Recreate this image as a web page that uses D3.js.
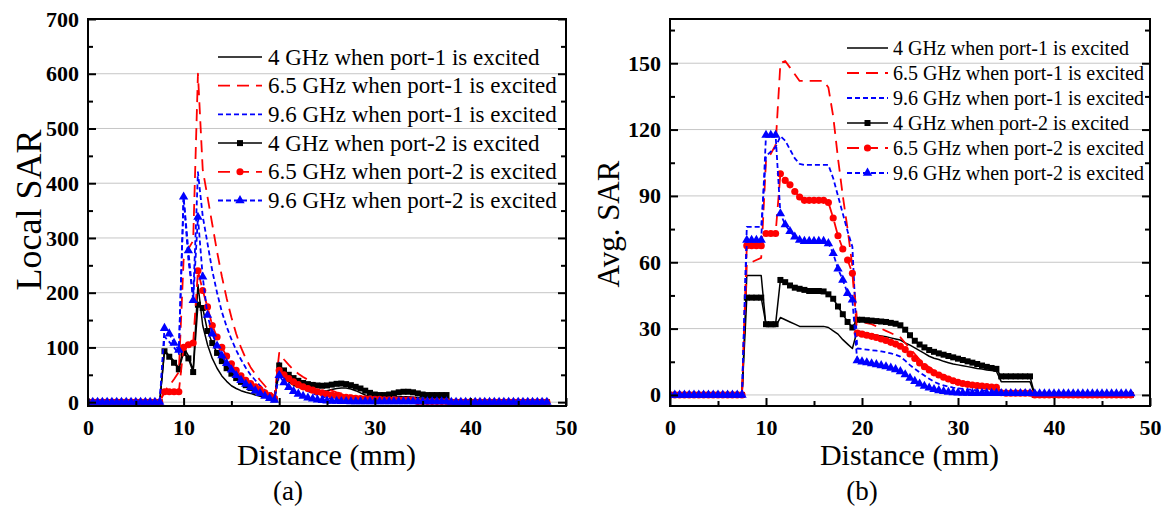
<!DOCTYPE html>
<html>
<head>
<meta charset="utf-8">
<script src="https://cdn.jsdelivr.net/npm/d3@7"></script>
<style>
  html, body { margin: 0; padding: 0; background: #fff; }
  svg { display: block; }
  text { font-family: "Liberation Serif", "Times New Roman", serif; }
</style>
</head>
<body>
<svg id="chart" width="1165" height="506"></svg>
<script>
// Sampling positions along the line (mm)
const distance = [
  0,0.5,1,1.5,2,2.5,3,3.5,4,4.5,5,5.5,6,6.5,7,7.5,
  8,8.5,9,9.5,10,10.5,11,11.5,
  12,12.5,13,13.5,14,14.5,15,15.5,
  16,16.5,17,17.5,18,18.5,19,19.5,
  20,20.5,21,21.5,22,22.5,23,23.5,
  24,24.5,25,25.5,26,26.5,27,27.5,
  28,28.5,29,29.5,30,30.5,31,31.5,
  32,32.5,33,33.5,34,34.5,35,35.5,
  36,36.5,37,37.5,
  38,38.5,39,39.5,40,40.5,41,41.5,42,42.5,43,43.5,44,44.5,45,45.5,46,46.5,47,47.5,48
];

// ---- (a) Local SAR ----
const local4GHzPort1 = [
  0,0,0,0,0,0,0,0,0,0,0,0,0,0,0,0,
  95,85,75,62,100,85,58,215,
  140,105,80,62,48,38,30,25,
  21,18,16,13,11,9,7,4,
  55,45,37,31,27,24,22,21,
  20,20,21,23,25,26,26,24,
  21,17,13,10,8,7,7,8,
  9,10,10,10,9,8,7,7,
  7,7,7,7,
  0,0,0,0,0,0,0,0,0,0,0,0,0,0,0,0,0,0,0,0,0
];
const local65GHzPort1 = [
  0,0,0,0,0,0,0,0,0,0,0,0,0,0,0,0,
  20,30,42,55,260,280,295,600,
  425,375,325,275,230,190,155,125,
  100,80,64,51,40,30,20,10,
  90,78,68,59,52,46,41,36,
  32,28,24,21,18,16,14,12,
  10,9,8,7,6,5.5,5,4.5,
  4,4,3.5,3.5,3,1.5,1.5,1.5,
  1.5,1.5,1.5,1.5,
  0,0,0,0,0,0,0,0,0,0,0,0,0,0,0,0,0,0,0,0,0
];
const local96GHzPort1 = [
  0,0,0,0,0,0,0,0,0,0,0,0,0,0,0,0,
  120,110,100,88,375,260,190,420,
  340,290,240,200,165,138,115,95,
  78,63,50,40,30,22,14,8,
  72,58,47,38,31,25,20,16,
  13,10,8,6.5,5,4.5,4,3.5,
  3,2.5,2.5,2,2,2,2,2,
  2,2,2,2,2,1,1,1,
  1,1,1,1,
  0,0,0,0,0,0,0,0,0,0,0,0,0,0,0,0,0,0,0,0,0
];
const local4GHzPort2 = [
  0,0,0,0,0,0,0,0,0,0,0,0,0,0,0,0,
  93,83,72,60,90,80,55,178,
  172,130,108,90,75,62,52,44,
  37,31,26,21,17,13,9,5,
  67,58,50,44,39,35,33,31.5,
  30.5,30,30.5,32,33.5,34,33,31,
  28,25,21,17,14,13,13,14,
  16,18,19,19,18,16,14,13,
  13,13,13,13,
  0,0,0,0,0,0,0,0,0,0,0,0,0,0,0,0,0,0,0,0,0
];
const local65GHzPort2 = [
  0,0,0,0,0,0,0,0,0,0,0,0,0,0,0,0,
  19,19,19,19,100,105,108,240,
  204,174,140,119,100,84,70,58,
  48,40,34,28,23,17,12,7,
  58,50,43,37,32,28,25,22,
  19,17,15,13,11.5,10,9,8,
  7,6.5,6,5.5,5,5,4.5,4.5,
  4.5,4,4,4,4,1,1,1,
  1,1,1,1,
  0,0,0,0,0,0,0,0,0,0,0,0,0,0,0,0,0,0,0,0,0
];
const local96GHzPort2 = [
  0,0,0,0,0,0,0,0,0,0,0,0,0,0,0,0,
  135,125,108,95,375,277,186,338,
  229,159,125,103,85,71,59,49,
  40,33,27,21,16,11,7,4,
  49,36,27,20,15,11,8,6,
  4.5,3.5,2.5,2,2,1.5,1.5,1,
  1,1,1,1,1,1,1,1,
  1,1,1,1,1,1,1,1,
  1,1,1,1,
  0,0,0,0,0,0,0,0,0,0,0,0,0,0,0,0,0,0,0,0,0
];

// ---- (b) Averaged SAR ----
const avg4GHzPort1 = [
  0,0,0,0,0,0,0,0,0,0,0,0,0,0,0,0,
  54,54,54,54,31,31,31,35,
  34,33,32,31,31,31,31,31,
  31,30.5,29,27.5,25,23,21,29,
  28.5,28,27.5,27,26.7,26.3,25.8,25.3,
  24.8,23.5,22.5,21.3,20,18.8,17.5,16.6,
  16,15.2,14.6,14,13.6,13.2,12.8,12.4,
  12,11.7,11.3,11,10.7,6,6,6,
  6,6,6,6,
  0,0,0,0,0,0,0,0,0,0,0,0,0,0,0,0,0,0,0,0,0
];
const avg65GHzPort1 = [
  0,0,0,0,0,0,0,0,0,0,0,0,0,0,0,0,
  59,60,61,62,106,109,113,150,
  151,148,145,142,142,142,142,142,
  142,139,126,107,90,75,58,33,
  33,32.5,32,31,30,29,28,27,
  26,23.5,21,18.5,16,14,12.5,11,
  10,9,8,7,6.2,5.6,5.1,4.7,
  4.4,4.1,3.9,3.7,3.5,1.5,1.3,1.2,
  1.2,1.2,1.2,1.2,
  0,0,0,0,0,0,0,0,0,0,0,0,0,0,0,0,0,0,0,0,0
];
const avg96GHzPort1 = [
  0,0,0,0,0,0,0,0,0,0,0,0,0,0,0,0,
  76,76,76,76,108,110,112,117,
  115,111,107,104.5,104,104,104,104,
  104,104,98,90,82,74,67,21,
  20.8,20.5,20.2,20,19.7,19.3,18.8,18.2,
  17.3,15.5,13.5,11.8,10.2,8.8,7.3,6,
  5,4.3,3.8,3.3,3,2.7,2.5,2.3,
  2.1,2,1.9,1.8,1.7,1,1,1,
  1,1,1,1,
  0.5,0.5,0.5,0.5,0.5,0.5,0.5,0.5,0.5,0.5,0.5,0.5,0.5,0.5,0.5,0.5,0.5,0.5,0.5,0.5,0.5
];
const avg4GHzPort2 = [
  0,0,0,0,0,0,0,0,0,0,0,0,0,0,0,0,
  44,44,44,44,32,32,32,52,
  51,49.5,48.5,48,47.5,47,47,47,
  46.8,45.5,43.5,40,36.5,33,30.5,34,
  34,33.8,33.6,33.4,33.2,33,32.6,32.2,
  31.5,29.5,27,24.5,22.8,21.5,20.3,19.5,
  18.8,18.2,17.6,17,16.4,15.8,15.2,14.6,
  14,13.3,12.7,12.2,11.8,8.4,8.4,8.4,
  8.4,8.4,8.4,8.4,
  0,0,0,0,0,0,0,0,0,0,0,0,0,0,0,0,0,0,0,0,0
];
const avg65GHzPort2 = [
  0,0,0,0,0,0,0,0,0,0,0,0,0,0,0,0,
  67.5,67.5,67.5,67.5,73,73,73,100,
  97,95,92,89.5,88,88,88,88,
  88,87,80,72,66,61,55,28,
  27.5,27,26.5,26,25.3,24.6,23.8,23,
  22,20.5,18.5,16.5,14.5,12.8,11.3,10,
  9,8,7.2,6.4,5.7,5.2,4.8,4.5,
  4.2,4,3.8,3.6,3.4,1,0.8,0.8,
  0.8,0.8,0.8,0.8,
  0,0,0,0,0,0,0,0,0,0,0,0,0,0,0,0,0,0,0,0,0
];
const avg96GHzPort2 = [
  0,0,0,0,0,0,0,0,0,0,0,0,0,0,0,0,
  70,70,70,70,117.5,117.5,117.5,82,
  77,74,71.5,70,69.5,69.5,69.5,69.5,
  69.5,68.5,64,57,52,46,43,15.5,
  15,14.6,14.2,13.8,13.3,12.8,12.2,11.5,
  10.6,9.2,7.6,6.2,5,4,3.2,2.5,
  2,1.6,1.3,1.1,1,0.9,0.9,0.8,
  0.8,0.8,0.8,0.8,0.8,0.7,0.7,0.7,
  0.7,0.7,0.7,0.7,
  0.6,0.6,0.6,0.6,0.6,0.6,0.6,0.6,0.6,0.6,0.6,0.6,0.6,0.6,0.6,0.6,0.6,0.6,0.6,0.6,0.6
];

const seriesLabels = [
  "4 GHz when port-1 is excited",
  "6.5 GHz when port-1 is excited",
  "9.6 GHz when port-1 is excited",
  "4 GHz when port-2 is excited",
  "6.5 GHz when port-2 is excited",
  "9.6 GHz when port-2 is excited"
];

const xTicks = [0, 10, 20, 30, 40, 50];
const xMinorTicks = [5, 15, 25, 35, 45];
const localTicks = [0, 100, 200, 300, 400, 500, 600, 700];
const localMinorTicks = [50, 150, 250, 350, 450, 550, 650];
const avgTicks = [0, 30, 60, 90, 120, 150];
const avgMinorTicks = [15, 45, 75, 105, 135, 165];

// Line / marker styling for the six series
const styles = [
  { color: "#000000", dash: null,   width: 1.5, marker: null },
  { color: "#ff0000", dash: "12,7", width: 1.8, marker: null },
  { color: "#0000ff", dash: "5,3",  width: 1.8, marker: null },
  { color: "#000000", dash: null,   width: 1.5, marker: d3.symbolSquare,   size: 36 },
  { color: "#ff0000", dash: "12,7", width: 1.8, marker: d3.symbolCircle,   size: 40 },
  { color: "#0000ff", dash: "5,3",  width: 1.8, marker: d3.symbolTriangle, size: 38 }
];

const SERIF = '"Liberation Serif", "Times New Roman", serif';
const svg = d3.select("#chart");
svg.append("rect").attr("width", 1165).attr("height", 506).attr("fill", "#fff");

const TOP = 19, BOTTOM = 406;

function drawPanel(p) {
  const series = p.series;
  series.forEach(s => { if (s.length !== distance.length) throw new Error("length mismatch " + s.length); });

  const x = d3.scaleLinear().domain([0, 50]).range([p.left, p.right]);
  const y = d3.scaleLinear().domain(p.yDomain).range([BOTTOM, TOP]);
  const g = svg.append("g");

  // horizontal grid
  g.append("g").selectAll("line")
    .data(p.grid)
    .join("line")
    .attr("x1", p.left).attr("x2", p.right)
    .attr("y1", d => y(d)).attr("y2", d => y(d))
    .attr("stroke", "#c6c6c6").attr("stroke-width", 1);

  const clipId = "clip-" + p.id;
  svg.append("clipPath").attr("id", clipId)
    .append("rect").attr("x", p.left).attr("y", TOP)
    .attr("width", p.right - p.left).attr("height", BOTTOM - TOP);

  const plot = g.append("g").attr("clip-path", `url(#${clipId})`);
  const line = d3.line().x(d => x(d[0])).y(d => y(d[1]));

  series.forEach((vals, i) => {
    const st = styles[i];
    const pts = distance.map((d, j) => [d, vals[j]]);
    plot.append("path")
      .attr("d", line(pts))
      .attr("fill", "none")
      .attr("stroke", st.color)
      .attr("stroke-width", st.width)
      .attr("stroke-dasharray", st.dash)
      .attr("stroke-linejoin", "round");
    if (st.marker) {
      const sym = d3.symbol().type(st.marker).size(st.size);
      plot.append("g").selectAll("path")
        .data(pts)
        .join("path")
        .attr("transform", d => `translate(${x(d[0])},${y(d[1])})`)
        .attr("d", sym)
        .attr("fill", st.color);
    }
  });

  // axes (ticks point inward)
  const styleAxis = sel => {
    sel.attr("font-family", SERIF);
    sel.select(".domain").remove();
    sel.selectAll(".tick line").attr("stroke", "#000").attr("stroke-width", 2);
    sel.selectAll(".tick text")
      .attr("fill", "#000")
      .style("font-family", SERIF)
      .style("font-weight", "bold")
      .style("font-size", "22px");
  };

  g.append("g").attr("transform", `translate(0,${BOTTOM})`)
    .call(d3.axisBottom(x).tickValues(xTicks).tickSize(-8).tickPadding(13).tickFormat(d3.format("d")))
    .call(styleAxis);
  g.append("g").attr("transform", `translate(0,${BOTTOM})`)
    .call(d3.axisBottom(x).tickValues(xMinorTicks).tickSize(-5).tickFormat(""))
    .call(styleAxis);

  g.append("g").attr("transform", `translate(${p.left},0)`)
    .call(d3.axisLeft(y).tickValues(p.ticks).tickSize(-8).tickPadding(9).tickFormat(d3.format("d")))
    .call(styleAxis);
  g.append("g").attr("transform", `translate(${p.left},0)`)
    .call(d3.axisLeft(y).tickValues(p.minor).tickSize(-5).tickFormat(""))
    .call(styleAxis);

  g.append("g").attr("transform", `translate(${p.right},0)`)
    .call(d3.axisRight(y).tickValues(p.ticks).tickSize(-8).tickFormat(""))
    .call(styleAxis);
  g.append("g").attr("transform", `translate(${p.right},0)`)
    .call(d3.axisRight(y).tickValues(p.minor).tickSize(-5).tickFormat(""))
    .call(styleAxis);

  // frame
  g.append("rect")
    .attr("x", p.left).attr("y", TOP)
    .attr("width", p.right - p.left).attr("height", BOTTOM - TOP)
    .attr("fill", "none").attr("stroke", "#000").attr("stroke-width", 2);

  // titles
  g.append("text")
    .attr("x", (p.left + p.right) / 2 - 0.5).attr("y", 465)
    .attr("text-anchor", "middle")
    .style("font-size", "30px")
    .text("Distance (mm)");
  g.append("text")
    .attr("transform", `translate(${p.yTitleX},${p.yTitleY}) rotate(-90)`)
    .attr("text-anchor", "middle")
    .style("font-size", p.yTitleSize + "px")
    .text(p.yTitle);
  g.append("text")
    .attr("x", p.tagX).attr("y", 500)
    .attr("text-anchor", "middle")
    .style("font-size", "27px")
    .text(p.tag);

  // legend
  const L = p.legend;
  seriesLabels.forEach((label, i) => {
    const st = styles[i];
    const cy = L.y0 + i * L.dy;
    g.append("line")
      .attr("x1", L.x0).attr("x2", L.x1).attr("y1", cy).attr("y2", cy)
      .attr("stroke", st.color).attr("stroke-width", st.width)
      .attr("stroke-dasharray", st.dash);
    if (st.marker) {
      g.append("path")
        .attr("transform", `translate(${(L.x0 + L.x1) / 2},${cy})`)
        .attr("d", d3.symbol().type(st.marker).size(st.size)())
        .attr("fill", st.color);
    }
    g.append("text")
      .attr("x", L.tx).attr("y", cy).attr("dy", "0.33em")
      .style("font-size", L.fs + "px")
      .text(label);
  });
}

drawPanel({
  id: "a",
  left: 88, right: 566,
  yDomain: [-7, 700],
  ticks: localTicks, minor: localMinorTicks,
  grid: [0, 100, 200, 300, 400, 500, 600],
  series: [local4GHzPort1, local65GHzPort1, local96GHzPort1, local4GHzPort2, local65GHzPort2, local96GHzPort2],
  yTitle: "Local SAR", yTitleX: 41, yTitleY: 210, yTitleSize: 36,
  tag: "(a)", tagX: 288,
  legend: { x0: 218, x1: 262, tx: 268, y0: 57, dy: 28.7, fs: 23 }
});

drawPanel({
  id: "b",
  left: 670, right: 1150,
  yDomain: [-5, 170],
  ticks: avgTicks, minor: avgMinorTicks,
  grid: [0, 30, 60, 90, 120, 150],
  series: [avg4GHzPort1, avg65GHzPort1, avg96GHzPort1, avg4GHzPort2, avg65GHzPort2, avg96GHzPort2],
  yTitle: "Avg. SAR", yTitleX: 619, yTitleY: 224, yTitleSize: 31,
  tag: "(b)", tagX: 862,
  legend: { x0: 847, x1: 888, tx: 893, y0: 48, dy: 25, fs: 20 }
});
</script>
</body>
</html>
